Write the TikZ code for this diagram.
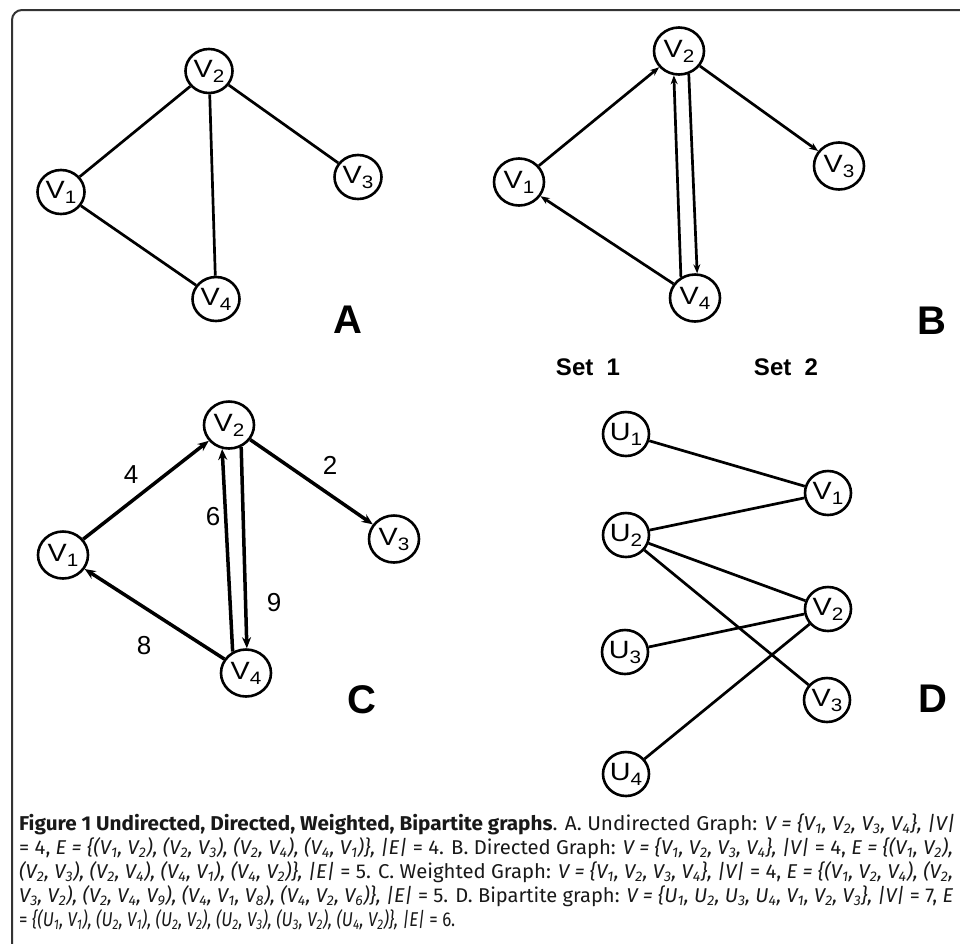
\documentclass[tikz,border=0pt]{standalone}
\usepackage{fontspec}
\usepackage{graphicx}
\setmainfont{Liberation Sans}
\newfontfamily\capfont{Fira Sans}
\usetikzlibrary{shapes.geometric,arrows.meta,calc}
\newcommand\nlab[2]{\scalebox{1.15}[1]{\fontsize{25}{25}\selectfont #1\raisebox{-5pt}{\fontsize{18}{18}\selectfont #2}}}
\newcommand\vv[1]{V\textsubscript{#1}}
\newcommand\uu[1]{U\textsubscript{#1}}
\tikzset{
  vtx/.style={ellipse, draw, line width=2.6pt, inner sep=0pt, minimum width=47pt, minimum height=44pt},
  vtxb/.style={vtx, minimum width=50pt, minimum height=47pt},
  edge/.style={line width=2.7pt},
  edgeb/.style={line width=2.7pt, -{Stealth[length=9pt,width=7pt]}},
  edgec/.style={line width=3.5pt, -{Stealth[length=11pt,width=9pt]}},
  panel/.style={font=\fontsize{40}{40}\selectfont\bfseries},
  wlab/.style={font=\fontsize{26}{26}\selectfont},
  setlab/.style={font=\fontsize{24}{24}\selectfont\bfseries},
  capline/.style={anchor=base west, inner sep=0pt, font=\capfont\fontsize{20}{24}\selectfont, text=black!90}
}
\begin{document}
\begin{tikzpicture}[x=1pt,y=-1pt]
\useasboundingbox (0,0) rectangle (960,943);
\fill[white] (0,0) rectangle (960,943);
\begin{scope}
\clip (0,0) rectangle (960,943);
\draw[line width=2pt, draw=black!80, rounded corners=10pt] (12,10) rectangle (1000,990);
\end{scope}

% Panel A
\node[vtx] (aV1) at (61,192) {\nlab{V}{1}};
\node[vtx] (aV2) at (209,71) {\nlab{V}{2}};
\node[vtx] (aV3) at (358,177) {\nlab{V}{3}};
\node[vtx] (aV4) at (216,299) {\nlab{V}{4}};
\draw[edge] (aV1) -- (aV2);
\draw[edge] (aV2) -- (aV3);
\draw[edge] (aV2) -- (aV4);
\draw[edge] (aV1) -- (aV4);
\node[panel] (lA) at (348,320) {A};

% Panel B
\node[vtxb] (bV1) at (519,182) {\nlab{V}{1}};
\node[vtxb] (bV2) at (679,51) {\nlab{V}{2}};
\node[vtxb] (bV3) at (839,166) {\nlab{V}{3}};
\node[vtxb] (bV4) at (695,298) {\nlab{V}{4}};
\draw[edgeb] (bV1) -- (bV2);
\draw[edgeb] (bV2) -- (bV3);
\draw[edgeb] (bV4) -- (bV1);
\draw[edgeb] (bV4.124) -- (bV2.-102);
\draw[edgeb] (bV2.-67) -- (bV4.85);
\node[panel] (lB) at (932,321) {B};

% Panel C
\node[vtxb] (cV1) at (63,555) {\nlab{V}{1}};
\node[vtxb] (cV2) at (229,425) {\nlab{V}{2}};
\node[vtxb] (cV3) at (394,539) {\nlab{V}{3}};
\node[vtxb] (cV4) at (246,673) {\nlab{V}{4}};
\draw[edgec] (cV1) -- (cV2);
\draw[edgec] (cV2) -- (cV3);
\draw[edgec] (cV4) -- (cV1);
\draw[edgec] (cV4.122) -- (cV2.-106);
\draw[edgec] (cV2.-61) -- (cV4.88);
\node[wlab] (w4) at (131,475) {4};
\node[wlab] (w2) at (330,465) {2};
\node[wlab] (w6) at (213,517) {6};
\node[wlab] (w9) at (274,603) {9};
\node[wlab] (w8) at (144,646) {8};
\node[panel] (lC) at (362,700) {C};

% Panel D
\node[setlab] (s1) at (588,367) {Set\ \ 1};
\node[setlab] (s2) at (786,367) {Set\ \ 2};
\node[vtx, minimum width=46pt] (dU1) at (626,434) {\nlab{U}{1}};
\node[vtx, minimum width=46pt] (dU2) at (626,535) {\nlab{U}{2}};
\node[vtx, minimum width=46pt] (dU3) at (625,652) {\nlab{U}{3}};
\node[vtx, minimum width=46pt] (dU4) at (626,774) {\nlab{U}{4}};
\node[vtx, minimum width=46pt] (dV1) at (828,493) {\nlab{V}{1}};
\node[vtx, minimum width=46pt] (dV2) at (828,609) {\nlab{V}{2}};
\node[vtx, minimum width=46pt] (dV3) at (827,700) {\nlab{V}{3}};
\draw[edge] (dU1) -- (dV1);
\draw[edge] (dU2) -- (dV1);
\draw[edge] (dU2) -- (dV2);
\draw[edge] (dU2) -- (dV3);
\draw[edge] (dU3) -- (dV2);
\draw[edge] (dU4) -- (dV2);
\node[panel] (lD) at (933,699) {D};

% Caption
\node[capline] (cap1) at (19,830) {\resizebox{936pt}{\height}{\textbf{Figure 1 Undirected, Directed, Weighted, Bipartite graphs}. A. Undirected Graph: \textit{V = \{\vv1, \vv2, \vv3, \vv4\}, |V|}}};
\node[capline] (cap2) at (19,854) {\resizebox{934pt}{\height}{= 4, \textit{E = \{(\vv1, \vv2), (\vv2, \vv3), (\vv2, \vv4), (\vv4, \vv1)\}, |E|} = 4. B. Directed Graph: \textit{V = \{\vv1, \vv2, \vv3, \vv4\}, |V|} = 4, \textit{E = \{(\vv1, \vv2),}}};
\node[capline] (cap3) at (19,878) {\resizebox{934pt}{\height}{\textit{(\vv2, \vv3), (\vv2, \vv4), (\vv4, \vv1), (\vv4, \vv2)\}, |E|} = 5. C. Weighted Graph: \textit{V = \{\vv1, \vv2, \vv3, \vv4\}, |V|} = 4, \textit{E = \{(\vv1, \vv2, \vv4), (\vv2,}}};
\node[capline] (cap4) at (19,902) {\resizebox{934pt}{\height}{\textit{\vv3, \vv2), (\vv2, \vv4, \vv9), (\vv4, \vv1, \vv8), (\vv4, \vv2, \vv6)\}, |E|} = 5. D. Bipartite graph: \textit{V = \{\uu1, \uu2, \uu3, \uu4, \vv1, \vv2, \vv3\}, |V|} = 7, \textit{E}}};
\node[capline] (cap5) at (19,926) {\resizebox{436pt}{\height}{= \textit{\{(\uu1, \vv1), (\uu2, \vv1), (\uu2, \vv2), (\uu2, \vv3), (\uu3, \vv2), (\uu4, \vv2)\}, |E|} = 6.}};
\end{tikzpicture}
\end{document}
